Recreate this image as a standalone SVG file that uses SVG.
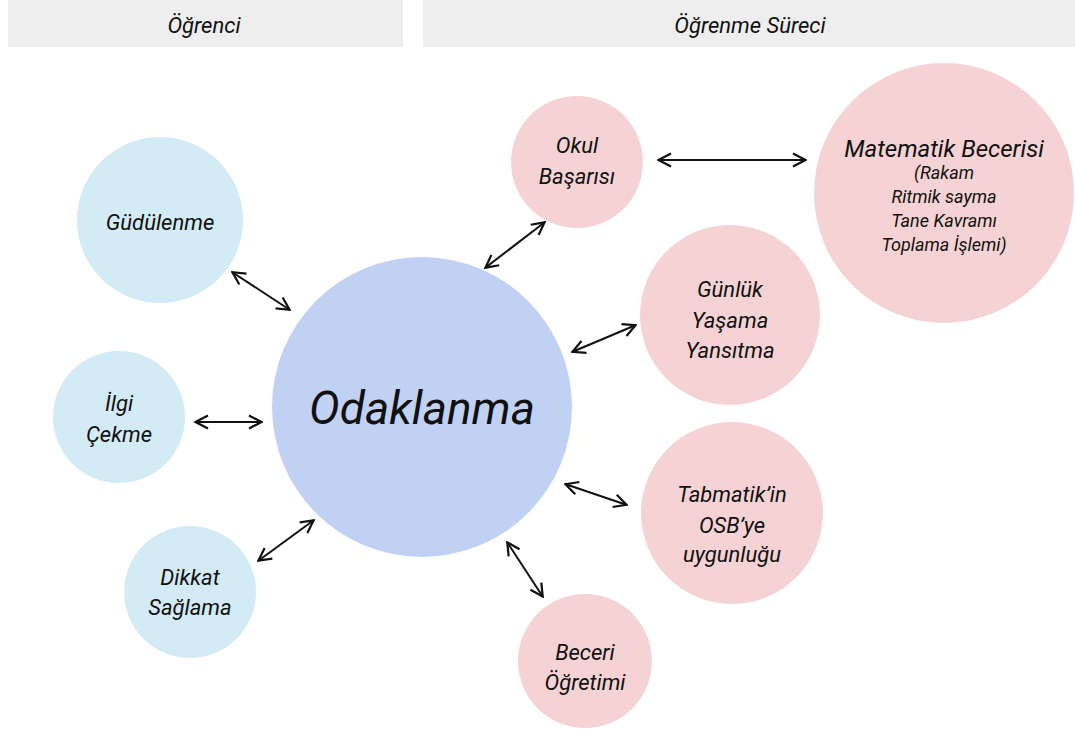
<svg xmlns="http://www.w3.org/2000/svg" width="1075" height="731" viewBox="0 0 1075 731">
<style>
.hdr{fill:#eeeeee}
.blue{fill:#d3ebf4}
.center{fill:#c0d1f4}
.pink{fill:#f5d3d4}
text{font-family:"Roboto","Liberation Sans",sans-serif;font-style:italic;fill:#111;text-anchor:middle}
.t{font-size:22px}
.h{font-size:22px}
.big{font-size:46px}
.sub{font-size:18px}
.con line{stroke:#111;stroke-width:2;fill:none;marker-start:url(#ah);marker-end:url(#ah)}
</style>
<defs>
<marker id="ah" viewBox="0 0 16 16" refX="15" refY="8" markerWidth="16" markerHeight="16" markerUnits="userSpaceOnUse" orient="auto-start-reverse">
<path d="M2,1.5 L14.5,8 L2,14.5" fill="none" stroke="#111" stroke-width="2.2"/>
</marker>
</defs>
<g id="header-ogrenci"><rect class="hdr" x="8" y="0" width="395" height="47"/><text class="h" x="204" y="33">Öğrenci</text></g>
<g id="header-surec"><rect class="hdr" x="423" y="0" width="652" height="47"/><text class="h" x="750" y="33">Öğrenme Süreci</text></g>
<g class="con" id="connectors">
<line x1="232" y1="272" x2="290" y2="310"/>
<line x1="195" y1="422" x2="262" y2="422"/>
<line x1="258" y1="561" x2="314" y2="520"/>
<line x1="485" y1="268" x2="545" y2="222"/>
<line x1="658" y1="160" x2="806" y2="160"/>
<line x1="572" y1="352" x2="636" y2="325"/>
<line x1="565" y1="484" x2="627" y2="505"/>
<line x1="507" y1="542" x2="543" y2="597"/>
</g>
<g id="gudulenme"><circle class="blue" cx="160" cy="220" r="83"/><text class="t" x="160" y="230">Güdülenme</text></g>
<g id="ilgi"><circle class="blue" cx="119" cy="417" r="66"/><text class="t" x="119" y="411">İlgi</text><text class="t" x="119" y="442">Çekme</text></g>
<g id="dikkat"><circle class="blue" cx="190" cy="592" r="66"/><text class="t" x="190" y="585">Dikkat</text><text class="t" x="190" y="615">Sağlama</text></g>
<g id="odaklanma"><circle class="center" cx="422" cy="407" r="150"/><text class="big" x="422" y="424">Odaklanma</text></g>
<g id="okul"><circle class="pink" cx="577" cy="162" r="66"/><text class="t" x="577" y="153">Okul</text><text class="t" x="577" y="184">Başarısı</text></g>
<g id="matematik"><circle class="pink" cx="944" cy="193" r="130"/><text x="944" y="157" style="font-size:24px">Matematik Becerisi</text><text class="sub" x="944" y="179">(Rakam</text><text class="sub" x="944" y="203">Ritmik sayma</text><text class="sub" x="944" y="227">Tane Kavramı</text><text class="sub" x="944" y="251">Toplama İşlemi)</text></g>
<g id="gunluk"><circle class="pink" cx="730" cy="315" r="90"/><text class="t" x="730" y="297">Günlük</text><text class="t" x="730" y="328">Yaşama</text><text class="t" x="730" y="358">Yansıtma</text></g>
<g id="tabmatik"><circle class="pink" cx="732" cy="513" r="91"/><text class="t" x="732" y="502">Tabmatik’in</text><text class="t" x="732" y="533">OSB’ye</text><text class="t" x="732" y="562">uygunluğu</text></g>
<g id="beceri"><circle class="pink" cx="585" cy="661" r="67"/><text class="t" x="585" y="660">Beceri</text><text class="t" x="585" y="690">Öğretimi</text></g>
</svg>
